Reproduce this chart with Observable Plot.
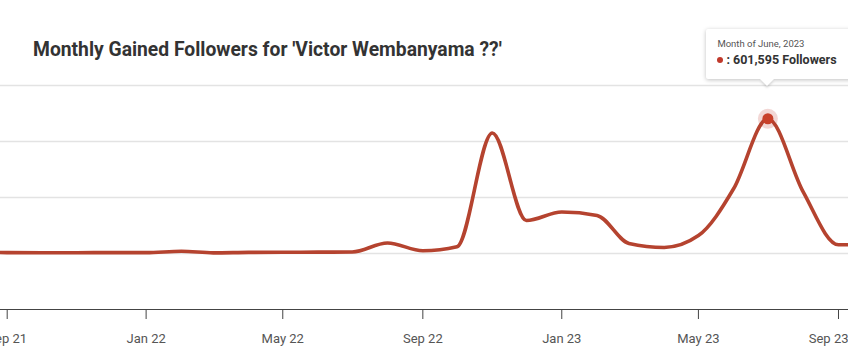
<!DOCTYPE html>
<html><head><meta charset="utf-8">
<script src="https://cdn.jsdelivr.net/npm/d3@7"></script>
<script src="https://cdn.jsdelivr.net/npm/@observablehq/plot@0.6"></script>
<style>
body{margin:0;background:#fff;font-family:Roboto,"Noto Sans",sans-serif;overflow:hidden}
#wrap{position:relative;width:848px;height:358px;overflow:hidden;background:#fff}
#title{height:80px;box-sizing:border-box;padding:39px 0 0 33px;font-size:19.3px;font-weight:700;color:#333;line-height:22px;white-space:nowrap}
#chart svg{display:block}
#tip{position:absolute;background:#fff;box-shadow:0 1px 4px rgba(0,0,0,0.25);border-radius:2px;padding:0 12px 0 11px;box-sizing:border-box;white-space:nowrap}
#tip .l1{font-size:9.5px;color:#555;margin-top:9px;line-height:12px}
#tip .l2{font-size:12.5px;font-weight:700;color:#333;margin-top:2px;line-height:16px}
#tip .dot{display:inline-block;width:6px;height:6px;border-radius:50%;background:#c0392b;vertical-align:middle;margin:0 3px 2px 0}
#arrow{position:absolute;width:0;height:0;border-left:7px solid transparent;border-right:7px solid transparent;border-top:7px solid #fff;filter:drop-shadow(0 2px 1px rgba(0,0,0,0.15))}
</style></head>
<body>
<div id="wrap">
  <div id="title"></div>
  <div id="chart"></div>
  <div id="tip"><div class="l1"></div><div class="l2"></div></div>
  <div id="arrow"></div>
</div>
<script>
const months = ["2021-07","2021-08","2021-09","2021-10","2021-11","2021-12",
  "2022-01","2022-02","2022-03","2022-04","2022-05","2022-06","2022-07","2022-08","2022-09","2022-10","2022-11","2022-12",
  "2023-01","2023-02","2023-03","2023-04","2023-05","2023-06","2023-07","2023-08","2023-09"];
const followers = [5000,4000,3500,3500,4000,4000,
  10000,3000,5000,5500,6000,7000,47000,12000,30000,538000,147000,185000,
  170000,45000,27000,80000,290000,601595,275000,39000,40000];
const yTicks = [-250000,0,250000,500000,750000];
const highlightMonth = "2023-06";
const titleText = "Monthly Gained Followers for 'Victor Wembanyama ??'";

document.getElementById("title").textContent = titleText;
const parse = d3.utcParse("%Y-%m");
// each month's point sits at the end of that month
const data = months.map((m,i)=>({month:m, date:d3.utcMonth.offset(parse(m),1), value:followers[i]}));
const hi = data.find(d=>d.month===highlightMonth);

const lineColor = "#b5432f";
const plot = Plot.plot({
  width:848, height:278,
  marginLeft:0, marginRight:0, marginTop:5, marginBottom:49,
  style:{fontFamily:"Roboto, 'Noto Sans', sans-serif", fontSize:"13px", color:"#555", overflow:"visible"},
  x:{type:"utc", domain:[new Date(Date.UTC(2021,7,26,3)), new Date(Date.UTC(2023,8,9,19))], label:null},
  y:{domain:[-250000,750000], axis:null},
  marks:[
    Plot.ruleY(yTicks.slice(1), {stroke:"#e3e3e3", strokeWidth:1.5}),
    Plot.ruleY([-250000], {stroke:"#444", strokeWidth:1}),
    Plot.axisX({ticks:d3.utcMonth.every(4), tickFormat:d3.utcFormat("%b %y"), tickSize:10, tickPadding:14, stroke:"#444", fill:"#555", label:null}),
    Plot.line(data, {x:"date", y:"value", stroke:lineColor, strokeWidth:3.6, curve:"monotone-x", clip:true}),
    Plot.dot([hi], {x:"date", y:"value", r:10, fill:"#c0392b", fillOpacity:0.2, stroke:null}),
    Plot.dot([hi], {x:"date", y:"value", r:5.5, fill:"#c8402a", stroke:null})
  ]
});
document.getElementById("chart").appendChild(plot);

// keep the last tick label inside the right edge, as in the reference
const labels = plot.querySelectorAll('g[aria-label="x-axis tick label"] text');
if (labels.length) {
  const last = labels[labels.length-1];
  const bb = last.getBBox();
  const tr = last.getAttribute("transform") || "";
  const m = tr.match(/translate\(([-\d.]+),([-\d.]+)\)/);
  if (m) {
    const tx = +m[1];
    const overflow = tx + bb.width/2 - 848;
    if (overflow > 0) last.setAttribute("transform", `translate(${tx - overflow},${m[2]})`);
  }
}

const px = plot.scale("x").apply(hi.date);
const py = 80 + plot.scale("y").apply(hi.value);
const tip = document.getElementById("tip");
tip.querySelector(".l1").textContent = "Month of " + d3.utcFormat("%B, %Y")(parse(hi.month));
tip.querySelector(".l2").innerHTML = '<span class="dot"></span>: ' + d3.format(",")(hi.value) + " Followers";
tip.style.left = (px-61)+"px";
tip.style.top = (py-89)+"px";
tip.style.height = "50px";
tip.style.width = "150px";
const arrow = document.getElementById("arrow");
arrow.style.left = (px-7)+"px";
arrow.style.top = (py-39)+"px";
</script>
</body></html>
